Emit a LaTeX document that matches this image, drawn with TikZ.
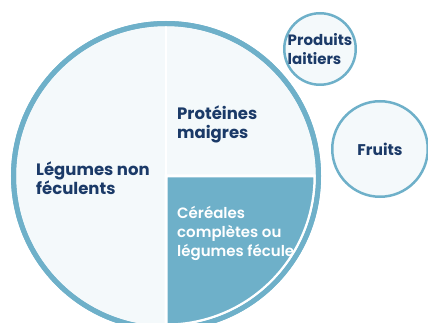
\documentclass[tikz,border=0pt]{standalone}
\usepackage{fontspec}
\setmainfont{Poppins}
\newfontfamily\semifont{Poppins SemiBold}
\usepackage{tikz}
\usetikzlibrary{positioning}
\definecolor{plateblue}{HTML}{6EB0C9}
\definecolor{platefill}{HTML}{F4F9FB}
\definecolor{labelnavy}{HTML}{1B3A68}

\begin{document}
\begin{tikzpicture}[
    x=1pt, y=-1pt,
    ring/.style={circle, draw=plateblue, fill=platefill, inner sep=0pt},
    label/.style={font=\bfseries\fontsize{16.5}{19.5}\selectfont, text=labelnavy, align=left, inner sep=0pt},
    small/.style={label, font=\bfseries\fontsize{15}{19}\selectfont},
    split/.style={white, line width=2pt}
]
\useasboundingbox (0,0) rectangle (428,323);

% Plate
\begin{scope}
\clip (0,0) rectangle (428,323);
\node[ring, line width=5pt, minimum size=305pt] (plate) at (166,176) {};
\draw[split] (plate.north) -- (plate.south);
\draw[split] (plate.center) -- (plate.east);
\begin{scope}
\clip (plate.center) circle (150);
\filldraw[fill=plateblue, draw=white, line width=3pt]
    (plate.center) -- ++(149,0) arc[start angle=0, end angle=90, radius=149] -- cycle;
% base anchor sits on the last line
\node[small, font=\semifont\fontsize{15}{19}\selectfont, text=white, anchor=base west] (cereal) at (177,256)
    {Céréales\\complètes ou\\légumes féculents};
\end{scope}
\draw[plateblue, line width=5pt] (plate.center) circle (152.5);
\end{scope}

% Labels
\node[label, anchor=base west] (veg) at (36,195) {Légumes non\\féculents};
\node[label, anchor=base west] (protein) at (177,139) {Protéines\\maigres};

% Side dishes
\node[ring, line width=2.5pt, minimum size=71.5pt] (dairy) at (320,49) {};
\node[small] at (dairy) {Produits\\laitiers};
\node[ring, line width=2.5pt, minimum size=95.5pt] (fruit) at (380,149) {};
\node[small, font=\bfseries\fontsize{15.5}{19}\selectfont] at (fruit) {Fruits};

\end{tikzpicture}
\end{document}
